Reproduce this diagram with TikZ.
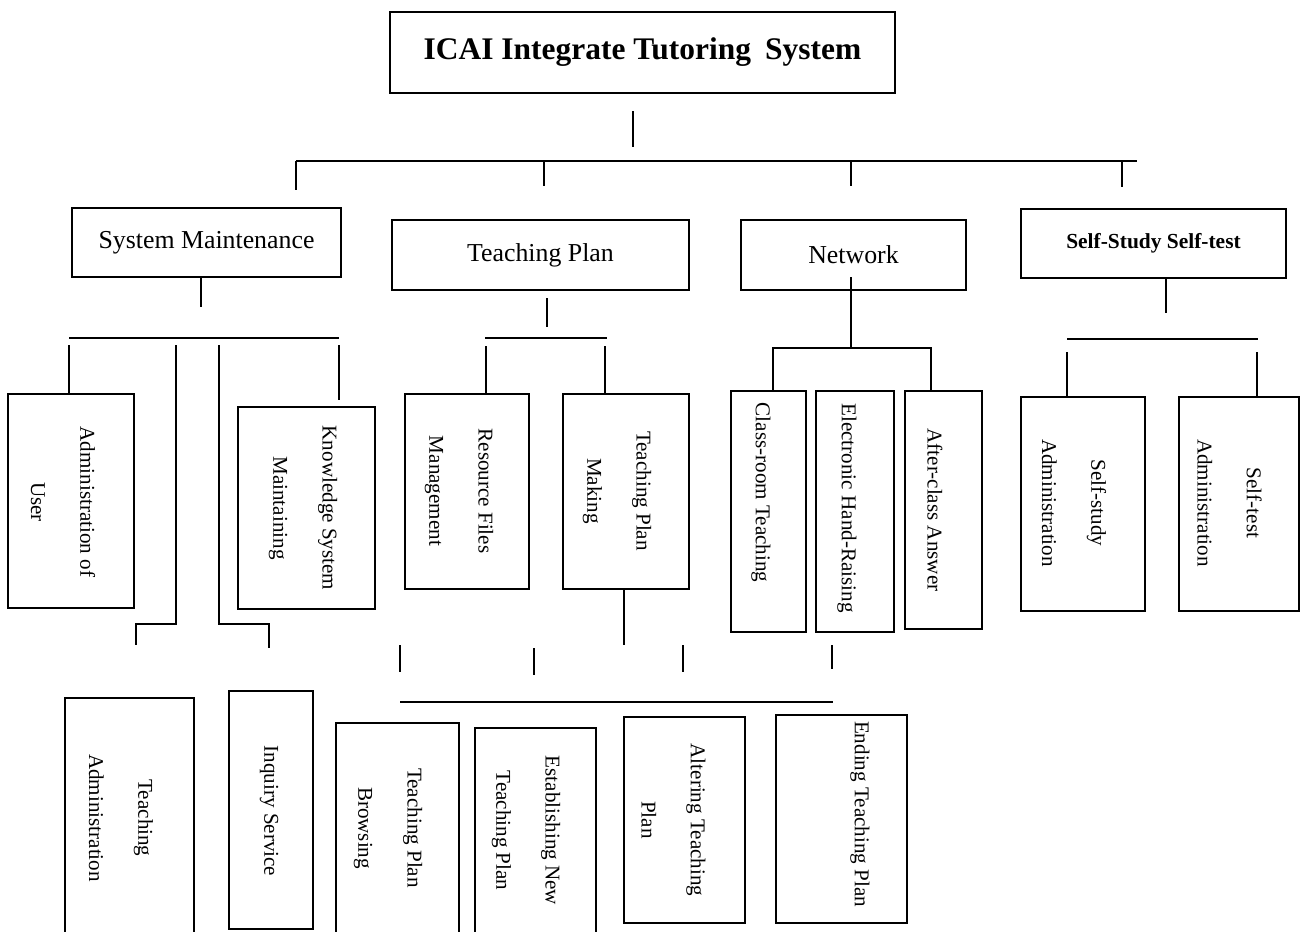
\documentclass[tikz,border=0pt]{standalone}
\usepackage{fontspec}
\setmainfont{Liberation Serif}

\tikzset{
  box/.style={draw, line width=1pt, inner sep=0pt},
  dim/.style 2 args={minimum width=#1*0.02cm, minimum height=#2*0.02cm},
  vtext/.style={rotate=-90, align=center, inner sep=0pt, font=\fontsize{12}{28}\selectfont},
  htext/.style={font=\fontsize{14.7}{17}\selectfont}
}

\begin{document}
\begin{tikzpicture}[x=0.02cm, y=-0.02cm, line width=1pt]

\useasboundingbox (0,0) rectangle (1302,931);

\node[box, dim={505}{81}, font=\fontsize{17.9}{20}\selectfont\bfseries] (top) at (642.5,52.5) {ICAI Integrate Tutoring\hspace{0.45em}System};

\node[box, dim={269}{69}, htext] (sm) at (206.5,242.5) {System Maintenance};
\node[box, dim={297}{70}, htext] (tp) at (540.5,255) {Teaching Plan};
\node[box, dim={225}{70}, htext] (nw) at (853.5,255) {Network};
\node[box, dim={265}{69}, font=\fontsize{12.2}{14}\selectfont\bfseries] (ss) at (1153.5,243.5) {Self-Study Self-test};

% second row
\node[box, dim={126}{214}] (user) at (71,501) {};
\node[vtext] (userT) at (63,502) {Administration of\\User};

\node[box, dim={137}{202}] (know) at (306.5,508) {};
\node[vtext] (knowT) at (303,508) {Knowledge System\\Maintaining};

\node[box, dim={124}{195}] (res) at (467,491.5) {};
\node[vtext] (resT) at (459,491) {Resource Files\\Management};

\node[box, dim={126}{195}] (tpm) at (626,491.5) {};
\node[vtext] (tpmT) at (617,491) {Teaching Plan\\Making};

\node[box, dim={75}{241}] (cls) at (768.5,511.5) {};
\node[vtext] (clsT) at (761,492.5) {Class-room Teaching};

\node[box, dim={78}{241}] (ehr) at (855,511.5) {};
\node[vtext] (ehrT) at (847,508) {Electronic Hand-Raising};

\node[box, dim={77}{238}] (aca) at (943.5,510) {};
\node[vtext] (acaT) at (935,510) {After-class Answer};

\node[box, dim={124}{214}] (ssa) at (1083,504) {};
\node[vtext] (ssaT) at (1074,503) {Self-study\\Administration};

\node[box, dim={120}{214}] (sta) at (1239,504) {};
\node[vtext] (staT) at (1229.5,503) {Self-test\\Administration};

% third row
\node[box, dim={129}{242}] (tadm) at (129.5,819) {};
\node[vtext] (tadmT) at (121,818) {Teaching\\Administration};

\node[box, dim={84}{238}] (inq) at (271,810) {};
\node[vtext] (inqT) at (269,811) {Inquiry Service};

\node[box, dim={123}{217}] (tpb) at (397.5,831.5) {};
\node[vtext] (tpbT) at (388,828) {Teaching Plan\\Browsing};

\node[box, dim={121}{212}] (ent) at (535.5,834) {};
\node[vtext] (entT) at (526,830.5) {Establishing New\\Teaching Plan};

\node[box, dim={121}{206}] (alt) at (684.5,820) {};
\node[vtext] (altT) at (673.5,820) {Altering Teaching\\Plan};

\node[box, dim={131}{208}] (ending) at (841.5,819) {};
\node[vtext] (endingT) at (860,814) {Ending Teaching Plan};

% top level lines
\draw (633,111) -- (633,147);
\draw (296,161) -- (1137,161);
\draw (296,161) -- (296,190);
\draw (544,161) -- (544,186);
\draw (851,161) -- (851,186);
\draw (1122,161) -- (1122,187);

% system maintenance
\draw (sm.south -| 201,0) -- (201,307);
\draw (69,338) -- (339,338);
\draw (69,345) -- (69,345 |- user.north);
\draw (176,345) -- (176,624) -- (136,624) -- (136,645);
\draw (219,345) -- (219,624) -- (269,624) -- (269,648);
\draw (339,345) -- (339,400);

% teaching plan
\draw (547,298) -- (547,327);
\draw (485,338) -- (607,338);
\draw (486,346) -- (486,346 |- res.north);
\draw (605,346) -- (605,346 |- tpm.north);
\draw (tpm.south -| 624,0) -- (624,645);
\draw (400,645) -- (400,672);
\draw (534,648) -- (534,675);
\draw (683,645) -- (683,672);
\draw (832,645) -- (832,669);
\draw (400,702) -- (833,702);

% network
\draw (851,277) -- (851,348);
\draw (773,348 |- cls.north) -- (773,348) -- (931,348) -- (931,348 |- aca.north);

% self-study
\draw (ss.south -| 1166,0) -- (1166,313);
\draw (1067,339) -- (1258,339);
\draw (1067,352) -- (1067,352 |- ssa.north);
\draw (1257,352) -- (1257,352 |- sta.north);

\end{tikzpicture}
\end{document}
